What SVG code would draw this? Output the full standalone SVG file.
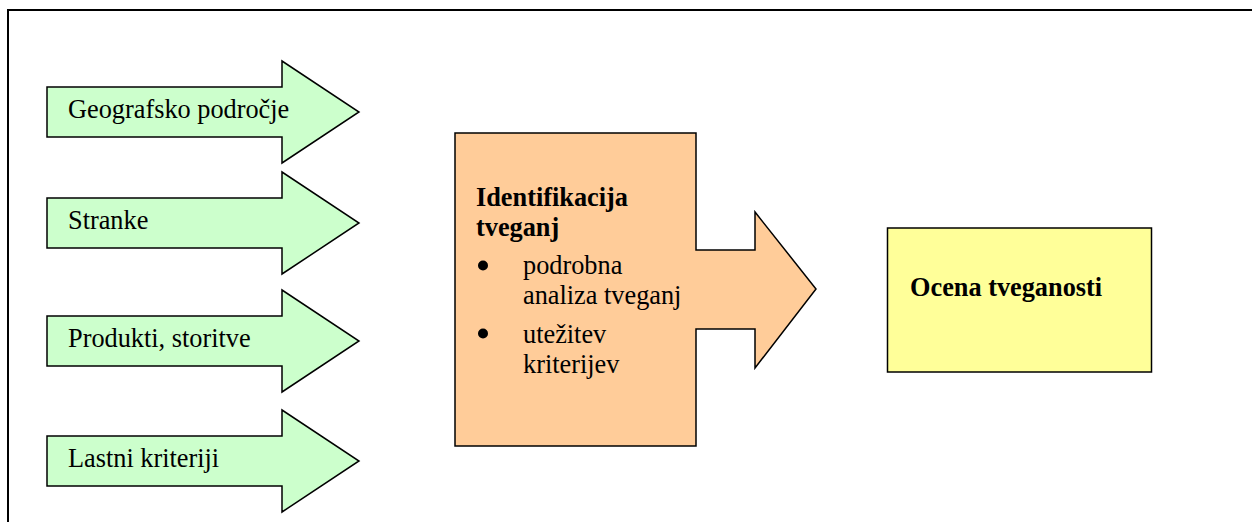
<svg xmlns="http://www.w3.org/2000/svg" width="1252" height="522" viewBox="0 0 1252 522">
  <style>
    .frame { fill: none; stroke: #000; stroke-width: 2; }
    .shape { stroke: #000; stroke-width: 1.5; stroke-linejoin: miter; }
    .green { fill: #CCFFCC; }
    .orange { fill: #FFCC99; }
    .yellow { fill: #FFFF99; }
    text { font-family: "Liberation Serif", "Times New Roman", serif; font-size: 26.3px; fill: #000; }
    .bold { font-weight: bold; }
  </style>
  <defs>
    <!-- input arrow, drawn around its centre line at y=0 -->
    <polygon id="inArrow" points="47,-25 282,-25 282,-51 359,0 282,51 282,25 47,25"/>
  </defs>

  <!-- page frame -->
  <path class="frame" d="M8,522 V10 H1252"/>

  <g id="connectors"></g>

  <g id="geografsko">
    <use href="#inArrow" class="shape green" transform="translate(0,112)"/>
    <text x="68" y="117.5">Geografsko področje</text>
  </g>

  <g id="stranke">
    <use href="#inArrow" class="shape green" transform="translate(0,223)"/>
    <text x="68" y="228.5">Stranke</text>
  </g>

  <g id="produkti">
    <use href="#inArrow" class="shape green" transform="translate(0,341)"/>
    <text x="68" y="346.5">Produkti, storitve</text>
  </g>

  <g id="lastni">
    <use href="#inArrow" class="shape green" transform="translate(0,461)"/>
    <text x="68" y="466.5">Lastni kriteriji</text>
  </g>

  <g id="identifikacija">
    <polygon class="shape orange" points="455,133 696,133 696,250 755,250 755,212 816,289 755,368 755,329 696,329 696,446 455,446"/>
    <text class="bold" x="476" y="206">Identifikacija</text>
    <text class="bold" x="476" y="236">tveganj</text>
    <circle cx="483" cy="265.5" r="5"/>
    <text x="523" y="274">podrobna</text>
    <text x="523" y="304">analiza tveganj</text>
    <circle cx="483" cy="333.5" r="5"/>
    <text x="523" y="343">utežitev</text>
    <text x="523" y="373">kriterijev</text>
  </g>

  <g id="ocena">
    <rect class="shape yellow" x="887.5" y="228" width="264" height="144" stroke-width="2"/>
    <text class="bold" x="910" y="296">Ocena tveganosti</text>
  </g>
</svg>
